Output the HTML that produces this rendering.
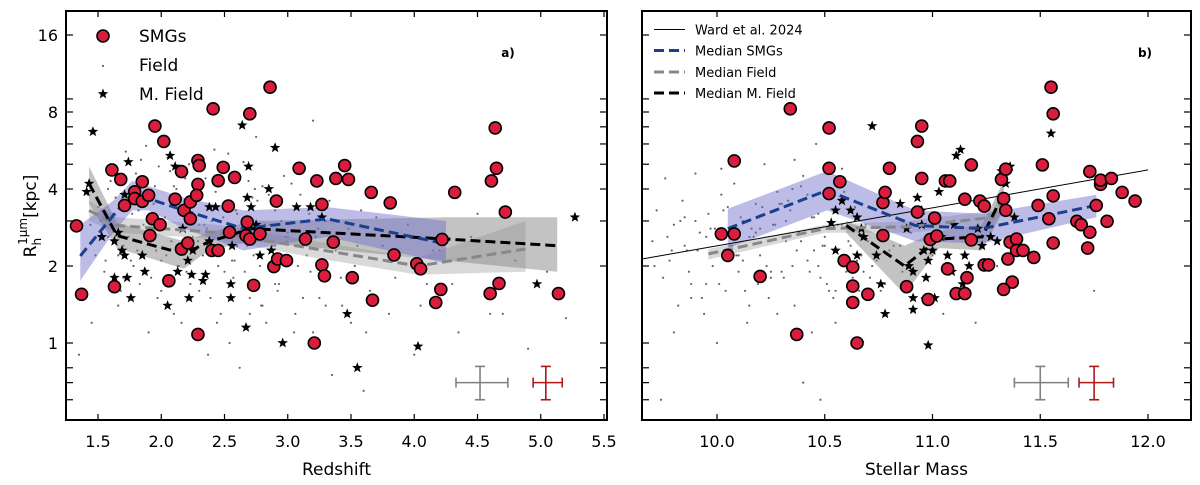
<!DOCTYPE html>
<html><head><meta charset="utf-8">
<style>
html,body{margin:0;padding:0;background:#fff;}
svg{display:block;font-family:"DejaVu Sans","Liberation Sans",sans-serif;}
</style></head>
<body>
<svg id="chart" width="1200" height="485" viewBox="0 0 1200 485"></svg>
<script>
// ---------- Panel a data (Redshift) ----------
const smgZ = [1.33,1.37,1.61,1.68,1.63,1.71,1.79,1.79,1.85,1.85,1.90,1.95,2.02,1.93,1.91,1.99,2.06,2.11,2.16,2.18,2.16,2.21,2.23,2.23,2.29,2.30,2.29,2.28,2.29,2.40,2.45,2.45,2.49,2.41,2.53,2.58,2.54,2.68,2.67,2.70,2.70,2.73,2.78,2.86,2.91,2.89,2.92,2.99,3.09,3.14,3.21,3.23,3.27,3.27,3.29,3.36,3.38,3.45,3.48,3.51,3.66,3.67,3.81,3.84,4.02,4.05,4.17,4.21,4.22,4.32,4.60,4.61,4.64,4.65,4.67,4.72,5.14];
const smgRz = [2.87,1.55,4.75,4.36,1.66,3.45,3.9,3.67,4.27,3.58,3.78,7.05,6.14,3.06,2.63,2.9,1.75,3.65,4.68,3.3,2.33,2.46,3.06,3.56,5.17,4.94,4.17,3.78,1.08,2.3,2.3,4.31,4.86,8.23,3.43,4.44,2.71,2.97,2.63,2.55,7.87,1.68,2.67,10.0,3.59,1.99,2.13,2.1,4.82,2.55,1.0,4.3,2.02,3.48,1.83,2.48,4.4,4.94,4.36,1.8,3.88,1.47,3.53,2.21,2.04,1.95,1.44,1.62,2.54,3.88,1.56,4.3,6.93,4.82,1.71,3.25,1.56];
const mfZ = [1.46,1.43,1.41,1.53,1.63,1.66,1.69,1.71,1.63,1.74,1.71,1.76,1.73,1.85,1.87,2.05,2.07,2.11,2.13,2.17,2.21,2.22,2.24,2.25,2.33,2.35,2.38,2.38,2.43,2.55,2.55,2.56,2.64,2.67,2.68,2.69,2.71,2.75,2.78,2.85,2.87,2.90,2.96,3.07,3.18,3.27,3.47,3.55,4.03,4.97,5.27];
const mfRz = [6.7,4.2,3.9,2.6,2.5,2.7,2.3,2.2,1.8,5.1,3.8,1.5,1.8,2.2,1.9,1.4,5.4,4.9,1.9,2.8,2.1,1.5,1.85,2.3,1.75,1.85,2.5,3.4,3.4,1.7,1.5,2.4,7.1,1.15,3.7,4.9,3.4,2.9,2.2,4.0,2.3,5.8,1.0,3.4,3.4,3.1,1.3,0.8,0.97,1.7,3.1];
const fZ = [1.35,1.42,1.45,1.48,1.52,1.55,1.58,1.6,1.62,1.66,1.7,1.72,1.75,1.78,1.8,1.83,1.86,1.88,1.9,1.93,1.96,1.98,2.0,2.03,2.05,2.08,2.1,2.12,2.15,2.18,2.2,2.22,2.25,2.27,2.3,2.33,2.35,2.37,2.4,2.42,2.45,2.47,2.5,2.52,2.55,2.57,2.6,2.62,2.65,2.68,2.7,2.72,2.75,2.78,2.8,2.83,2.86,2.9,2.93,2.97,3.0,3.05,3.1,3.15,3.2,3.25,3.3,3.35,3.4,3.45,3.5,3.55,3.6,3.7,3.8,3.9,4.0,4.1,4.2,4.35,4.5,4.7,4.9,5.05,5.2,1.9,2.1,2.3,2.5,2.7,2.9,3.1,3.3,1.7,2.0,2.4,2.6,2.8,3.0,3.2,
 1.44,1.5,1.56,1.64,1.68,1.74,1.77,1.81,1.84,1.89,1.92,1.95,2.01,2.04,2.07,2.11,2.14,2.17,2.19,2.23,2.26,2.29,2.32,2.36,2.39,2.43,2.46,2.49,2.53,2.56,2.59,2.63,2.66,2.69,2.73,2.76,2.79,2.82,2.85,2.88,2.92,2.95,2.99,3.03,3.08,3.12,3.17,3.22,3.28,3.33,3.38,3.43,3.48,3.53,3.58,3.65,3.75,3.85,3.95,4.05,4.15,4.3,4.45,4.6,4.8,1.66,1.82,1.97,2.13,2.28,2.44,2.58,2.74,2.9,3.06,3.24,3.42,3.62,1.58,1.76,1.94,2.16,2.34,2.54,2.77,2.98,3.18,3.37];
const fRz = [0.9,3.8,1.2,2.2,3.0,1.9,2.6,4.3,3.2,1.4,2.4,5.6,3.5,2.0,4.6,1.7,2.9,5.9,1.1,3.6,2.3,4.9,1.6,3.1,5.3,2.5,1.3,4.0,2.8,3.4,1.9,5.0,2.6,3.9,1.6,2.2,4.4,0.9,3.0,5.7,2.0,1.3,3.5,2.7,4.6,1.8,3.2,0.8,5.1,2.4,1.5,3.7,6.4,2.0,4.1,1.2,2.9,3.3,1.7,4.5,2.6,1.1,3.8,2.2,7.4,1.5,3.0,0.75,2.7,4.2,1.2,2.4,0.65,3.1,1.3,2.6,0.9,1.7,2.3,1.1,3.2,1.3,0.95,1.9,1.25,3.1,4.1,2.9,1.9,1.3,1.7,2.6,1.4,1.8,2.1,3.3,2.4,1.4,2.7,1.1,
 2.9,3.4,2.1,3.7,1.6,2.6,3.2,2.3,5.2,2.7,1.8,4.1,3.0,2.2,4.7,3.4,2.0,2.9,4.4,1.7,3.6,2.5,4.0,2.8,1.5,3.9,2.4,3.1,5.5,2.1,3.3,2.6,1.9,4.3,2.2,3.6,1.4,2.9,3.8,2.4,1.6,3.0,2.5,4.2,2.0,1.5,3.2,2.6,1.8,3.6,2.3,1.4,2.8,2.0,3.3,1.6,2.4,1.8,2.9,1.4,2.3,1.7,2.6,1.3,2.1,2.2,3.3,1.5,2.0,3.7,1.2,2.1,4.0,2.4,1.3,2.8,1.8,1.1,4.0,2.1,3.5,1.2,2.9,1.0,2.2,2.6,1.9,2.5];
const medSz = [1.36,1.62,1.77,1.90,2.18,2.65,3.31,4.25];
const medSr = [2.19,3.15,3.84,3.67,3.3,2.8,3.06,2.44];
const medSlo = [1.75,2.7,3.3,3.3,2.8,2.3,2.6,2.05];
const medShi = [2.9,3.6,4.3,4.1,3.7,3.3,3.4,3.0];
const medFz = [1.43,1.65,2.43,3.22,4.03,4.88];
const medFr = [3.3,2.88,2.71,2.33,2.0,2.33];
const medFlo = [3.0,2.7,2.55,2.15,1.85,1.9];
const medFhi = [3.6,3.1,2.9,2.5,2.15,3.0];
const medMz = [1.43,1.65,2.18,2.37,2.71,4.25,5.13];
const medMr = [4.2,2.63,2.23,2.48,2.8,2.55,2.4];
const medMlo = [3.5,2.35,1.95,2.3,2.5,2.1,1.9];
const medMhi = [4.9,2.95,2.5,2.7,3.0,3.1,3.1];

// ---------- Panel b data (Stellar mass) ----------
const smgM = [10.02,10.08,10.05,10.08,10.20,10.34,10.37,10.52,10.52,10.52,10.57,10.59,10.63,10.63,10.63,10.65,10.70,10.77,10.78,10.77,10.80,10.88,10.93,10.95,10.95,10.93,10.98,10.99,11.01,11.02,11.06,11.08,11.07,11.11,11.15,11.15,11.16,11.18,11.18,11.22,11.24,11.24,11.26,11.32,11.34,11.33,11.34,11.36,11.39,11.39,11.42,11.35,11.37,11.33,11.47,11.49,11.51,11.55,11.56,11.56,11.54,11.56,11.67,11.69,11.73,11.73,11.72,11.76,11.78,11.78,11.81,11.83,11.88,11.94];
const smgRm = [2.67,2.67,2.2,5.15,1.82,8.23,1.08,6.93,4.82,3.84,4.27,2.1,1.98,1.67,1.44,1.0,1.55,3.54,3.88,2.63,4.82,1.66,6.14,7.05,4.4,3.25,1.48,2.54,3.08,2.62,4.3,4.3,1.95,1.56,1.56,3.65,1.8,4.97,2.53,3.59,3.43,2.02,2.02,4.36,4.78,3.67,3.3,2.48,2.55,2.3,2.3,2.13,1.73,1.62,2.16,3.45,4.97,10.0,7.87,3.76,3.06,2.46,2.99,2.9,4.68,2.71,2.35,3.45,4.17,4.33,2.99,4.4,3.88,3.59];
const mfM = [10.53,10.58,10.55,10.55,10.62,10.65,10.67,10.65,10.66,10.68,10.72,10.74,10.76,10.78,10.85,10.88,10.89,10.91,10.91,10.91,10.93,10.95,10.95,10.96,10.97,10.98,10.98,11.0,11.01,11.03,11.04,11.07,11.09,11.10,11.11,11.13,11.14,11.15,11.17,11.21,11.23,11.27,11.30,11.32,11.34,11.36,11.38,11.55];
const mfRm = [2.95,3.6,3.3,2.3,3.3,3.1,2.8,2.2,1.0,2.6,7.05,2.2,1.7,1.3,3.5,2.8,2.0,1.9,1.5,1.35,3.7,3.3,2.9,2.3,1.8,2.1,0.98,2.3,1.5,3.9,2.6,2.2,1.9,2.9,5.4,5.7,1.7,2.2,2.0,2.8,2.4,2.6,2.5,4.7,4.2,4.9,3.1,6.6];
const fM = [9.70,9.72,9.75,9.76,9.78,9.8,9.82,9.84,9.86,9.88,9.9,9.92,9.94,9.96,9.98,10.0,10.02,10.04,10.06,10.08,10.1,10.12,10.14,10.16,10.18,10.2,10.22,10.24,10.26,10.28,10.3,10.32,10.34,10.36,10.38,10.4,10.42,10.44,10.46,10.48,10.5,10.52,10.54,10.56,10.58,10.6,10.62,10.64,10.66,10.7,10.74,10.78,10.82,10.86,10.9,10.95,11.0,11.05,11.1,11.2,11.3,11.75,9.74,9.8,9.85,9.9,9.95,10.0,10.05,10.1,10.15,10.2,10.25,10.3,10.35,10.4,10.45,10.5,10.55,10.6,9.88,10.02,10.18,10.28,10.42,10.48,10.58,10.64,10.36,10.44,
 9.71,9.77,9.83,9.87,9.91,9.97,10.01,10.07,10.11,10.13,10.17,10.21,10.23,10.27,10.31,10.33,10.37,10.39,10.41,10.43,10.47,10.49,10.51,10.53,10.57,10.59,10.61,10.63,10.67,10.69,10.72,10.76,10.8,9.79,9.93,10.03,10.15,10.25,10.35,10.45,10.55,10.65,9.85,9.99,10.09,10.19,10.29,10.39,10.47,10.56,10.62,10.71,9.95,10.12,10.32,10.52,10.68,10.85,11.08,11.25];
const fRm = [2.5,3.3,1.8,4.4,2.1,2.9,1.4,3.6,2.3,1.7,4.6,2.7,1.3,3.2,2.0,2.6,3.8,1.6,2.4,4.2,1.9,3.0,1.2,2.8,3.5,2.2,5.0,1.5,2.9,3.9,1.9,2.5,3.3,1.4,2.7,4.5,2.1,3.1,6.0,1.8,2.6,3.7,1.5,2.3,4.8,1.9,2.8,3.4,1.6,2.5,2.1,1.7,2.4,1.9,2.7,1.5,2.2,1.3,2.6,1.2,2.0,1.6,0.6,1.1,2.4,3.0,1.7,1.0,3.4,2.2,1.4,2.8,1.8,3.5,2.0,0.7,3.1,2.4,1.2,2.0,1.5,4.8,2.7,1.3,3.8,0.6,2.9,3.6,5.2,1.1,
 2.0,2.6,3.0,1.9,2.3,2.8,1.7,2.4,3.1,1.6,2.6,3.4,2.0,2.9,1.8,3.6,2.3,4.1,2.7,1.9,3.2,2.4,1.7,2.9,2.1,3.9,2.5,1.8,2.2,2.9,2.0,1.6,2.3,2.3,1.5,3.3,2.6,1.9,4.0,2.3,1.6,2.1,3.1,2.8,2.2,1.7,3.5,2.5,2.0,2.9,2.4,1.8,2.6,2.1,3.0,1.6,1.9,2.4];
const medSm = [10.05,10.51,10.92,11.23,11.76];
const medSrm = [2.8,3.95,2.88,2.8,3.45];
const medSlom = [2.35,3.3,2.5,2.45,3.1];
const medShim = [3.35,4.7,3.3,3.2,3.8];
const medFm = [9.96,10.5,10.89,11.28,11.33];
const medFrm = [2.23,2.8,2.85,3.1,3.7];
const medFlom = [2.12,2.7,2.7,2.9,3.3];
const medFhim = [2.33,2.9,3.0,3.3,4.1];
const medMm = [10.6,10.87,11.03,11.23,11.33];
const medMrm = [2.88,2.0,2.55,2.6,3.84];
const medMlom = [2.7,1.55,2.35,2.3,3.3];
const medMhim = [3.0,2.4,2.75,2.9,4.3];
const wardM = [9.652,12.0];
const wardR = [2.13,4.75];

const xTicksZ = [1.5,2.0,2.5,3.0,3.5,4.0,4.5,5.0,5.5];
const xTicksM = [10.0,10.5,11.0,11.5,12.0];
const yMajor = [1,2,4,8,16];
const yMinor = [0.6,0.7,0.8,3,5,6,7,9];

// ---------- drawing ----------
const NS = 'http://www.w3.org/2000/svg';
const svg = document.getElementById('chart');
function mk(tag, attrs, parent){ const e=document.createElementNS(NS,tag); for(const k in attrs) e.setAttribute(k,attrs[k]); (parent||svg).appendChild(e); return e; }
const TOP=11, BOT=420;
function yS(r){ return 343 - 77*Math.log2(r); }
const xZ = z => 98 + (z-1.5)*126.5;
const xM = m => 717 + (m-10)*215.5;
const panels = [
  {L:66,R:607,x:xZ,name:'panel-a-redshift'},
  {L:642,R:1191,x:xM,name:'panel-b-stellar-mass'}
];
function star(cx,cy,r,g){
  let p=[]; for(let i=0;i<10;i++){ const a=-Math.PI/2+i*Math.PI/5; const rr=i%2?r*0.42:r; p.push((cx+rr*Math.cos(a)).toFixed(1)+','+(cy+rr*Math.sin(a)).toFixed(1)); }
  return mk('polygon',{points:p.join(' '),fill:'#000'},g);
}
function band(g,xf,xs,lo,hi,fill,op,name){
  let pts=xs.map((x,i)=>xf(x).toFixed(1)+','+yS(hi[i]).toFixed(1));
  for(let i=xs.length-1;i>=0;i--) pts.push(xf(xs[i]).toFixed(1)+','+yS(lo[i]).toFixed(1));
  const p=mk('polygon',{points:pts.join(' '),fill:fill,'fill-opacity':op},g);
  
  
}
function medLine(g,xf,xs,ys,col,name){
  const p=mk('polyline',{points:xs.map((x,i)=>xf(x).toFixed(1)+','+yS(ys[i]).toFixed(1)).join(' '),fill:'none',stroke:col,'stroke-width':3,'stroke-dasharray':'10,5'},g);
  
  
}
function errbar(g,cx,xl,xr,yc,yl,yh,col,name){
  const e=mk('g',{stroke:col,'stroke-width':1.6,fill:'none'},g);
  
  
  mk('line',{x1:xl,x2:xr,y1:yS(yc),y2:yS(yc)},e);
  mk('line',{x1:cx,x2:cx,y1:yS(yl),y2:yS(yh)},e);
  [xl,xr].forEach(x=>mk('line',{x1:x,x2:x,y1:yS(yc)-5,y2:yS(yc)+5},e));
  [yl,yh].forEach(y=>mk('line',{x1:cx-5,x2:cx+5,y1:yS(y),y2:yS(y)},e));
}
const SMGFILL='#d81e3c';
panels.forEach((P,pi)=>{
  const g=mk('g',{});
  
  
  const clipId='clip'+pi;
  const cp=mk('clipPath',{id:clipId},g); mk('rect',{x:P.L,y:TOP,width:P.R-P.L,height:BOT-TOP},cp);
  const plot=mk('g',{'clip-path':'url(#'+clipId+')'},g);
  const fx = pi===0?fZ:fM, fy = pi===0?fRz:fRm;
  fx.forEach((x,i)=>{ const d=mk('circle',{cx:P.x(x),cy:yS(fy[i]),r:1.1,fill:'#666'},plot);
    
     });
  if(pi===0){
    band(plot,P.x,medFz,medFlo,medFhi,'#aaaaaa',0.45,'field-band');
    band(plot,P.x,medMz,medMlo,medMhi,'#888888',0.5,'m-field-band');
    band(plot,P.x,medSz,medSlo,medShi,'#6a6ac8',0.45,'smg-band');
  } else {
    band(plot,P.x,medFm,medFlom,medFhim,'#aaaaaa',0.45,'field-band');
    band(plot,P.x,medMm,medMlom,medMhim,'#888888',0.5,'m-field-band');
    band(plot,P.x,medSm,medSlom,medShim,'#6a6ac8',0.45,'smg-band');
    const w=mk('line',{x1:P.x(wardM[0]),y1:yS(wardR[0]),x2:P.x(wardM[1]),y2:yS(wardR[1]),stroke:'#000','stroke-width':1},plot);
    
    
  }
  const sx = pi===0?mfZ:mfM, sy = pi===0?mfRz:mfRm;
  sx.forEach((x,i)=>{ const s=star(P.x(x),yS(sy[i]),5.5,plot);
    
     });
  if(pi===0){
    medLine(plot,P.x,medFz,medFr,'#888888','median-field-line');
    medLine(plot,P.x,medMz,medMr,'#000000','median-m-field-line');
    medLine(plot,P.x,medSz,medSr,'#1a3f8f','median-smg-line');
  } else {
    medLine(plot,P.x,medFm,medFrm,'#888888','median-field-line');
    medLine(plot,P.x,medMm,medMrm,'#000000','median-m-field-line');
    medLine(plot,P.x,medSm,medSrm,'#1a3f8f','median-smg-line');
  }
  const cx = pi===0?smgZ:smgM, cy = pi===0?smgRz:smgRm;
  cx.forEach((x,i)=>{ const c=mk('circle',{cx:P.x(x),cy:yS(cy[i]),r:6,fill:SMGFILL,stroke:'#000','stroke-width':1.6},plot);
    
     });
  if(pi===0){
    errbar(g,xZ(4.52),xZ(4.33),xZ(4.74),0.70,0.6,0.81,'#808080','field-error-bar');
    errbar(g,xZ(5.04),xZ(4.94),xZ(5.17),0.70,0.6,0.81,'#b01818','smg-error-bar');
  } else {
    errbar(g,xM(11.5),xM(11.38),xM(11.63),0.70,0.6,0.81,'#808080','field-error-bar');
    errbar(g,xM(11.75),xM(11.68),xM(11.84),0.70,0.6,0.81,'#b01818','smg-error-bar');
  }
  const fr=mk('rect',{x:P.L,y:TOP,width:P.R-P.L,height:BOT-TOP,fill:'none',stroke:'#000','stroke-width':2},g);
  
  
  yMajor.concat(yMinor).forEach(v=>{ const y=yS(v);
    mk('line',{x1:P.L,x2:P.L+7,y1:y,y2:y,stroke:'#000','stroke-width':1.2},g);
    mk('line',{x1:P.R-7,x2:P.R,y1:y,y2:y,stroke:'#000','stroke-width':1.2},g);
  });
  if(pi===0){ yMajor.forEach(v=>{ const t=mk('text',{x:P.L-8,y:yS(v)+6,'text-anchor':'end','font-size':16,fill:'#000'},g); t.textContent=v;
    
     }); }
  const xt = pi===0?xTicksZ:xTicksM;
  xt.forEach(v=>{ const x=P.x(v);
    mk('line',{x1:x,x2:x,y1:TOP,y2:TOP+6,stroke:'#000','stroke-width':1.2},g);
    mk('line',{x1:x,x2:x,y1:BOT-6,y2:BOT,stroke:'#000','stroke-width':1.2},g);
    const t=mk('text',{x:x,y:447,'text-anchor':'middle','font-size':16,fill:'#000'},g); t.textContent=v.toFixed(1);
    
    
  });
  const xl=mk('text',{x:(P.L+P.R)/2,y:475,'text-anchor':'middle','font-size':17,fill:'#000'},g);
  xl.textContent = pi===0?'Redshift':'Stellar Mass';
  
  
  const pl=mk('text',{x:pi===0?508:1145,y:57,'text-anchor':'middle','font-size':12,'font-weight':'bold',fill:'#000'},g);
  pl.textContent = pi===0?'a)':'b)';
  
  
});
const yt=mk('text',{transform:'translate(36,216) rotate(-90)','text-anchor':'middle','font-size':17,fill:'#000'});
yt.innerHTML='R<tspan font-size="12" dy="5">h</tspan><tspan font-size="12" dy="-14" dx="-7">1μm</tspan><tspan dy="9">[kpc]</tspan>';


const la=mk('g',{});


mk('circle',{cx:103,cy:36,r:6,fill:SMGFILL,stroke:'#000','stroke-width':1.6},la);
mk('circle',{cx:103,cy:66,r:1.1,fill:'#666'},la);
star(103,94,5.5,la);
[['SMGs',42],['Field',71],['M. Field',100]].forEach(([s,y])=>{ const t=mk('text',{x:139,y:y,'font-size':17,fill:'#000'},la); t.textContent=s;
  
   });
const lb=mk('g',{});


mk('line',{x1:654,x2:685,y1:29.5,y2:29.5,stroke:'#000','stroke-width':1},lb);
[['#1a3f8f',50.5],['#888888',72],['#000000',93]].forEach(([c,y])=>mk('line',{x1:654,x2:685,y1:y,y2:y,stroke:c,'stroke-width':3,'stroke-dasharray':'10,5'},lb));
[['Ward et al. 2024',34.5],['Median SMGs',55.5],['Median Field',77],['Median M. Field',98]].forEach(([s,y])=>{ const t=mk('text',{x:695,y:y,'font-size':13,fill:'#000'},lb); t.textContent=s;
  
   });
</script>
</body></html>
